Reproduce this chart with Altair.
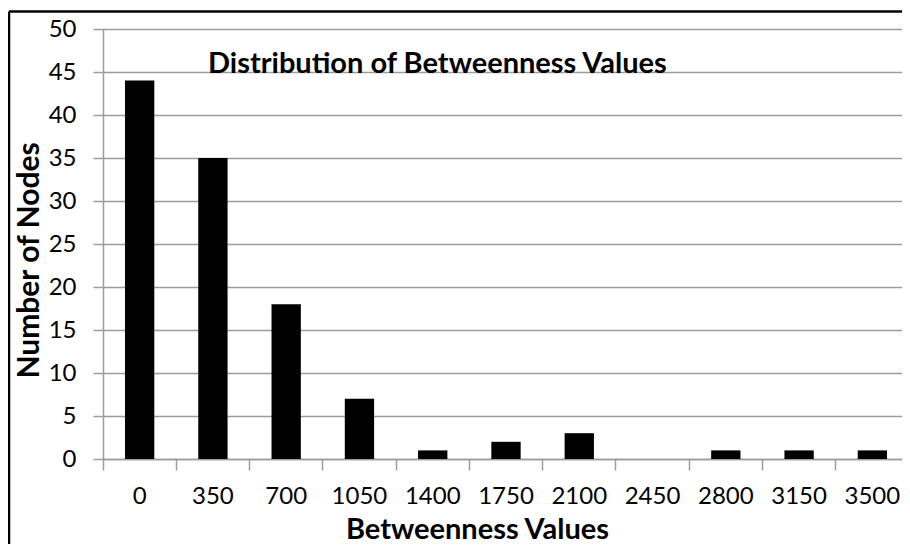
import altair as alt
import pandas as pd

# ---- data ----
categories = ["0", "350", "700", "1050", "1400", "1750", "2100", "2450", "2800", "3150", "3500"]
node_counts = [44, 35, 18, 7, 1, 2, 3, 0, 1, 1, 1]
y_tick_values = [0, 5, 10, 15, 20, 25, 30, 35, 40, 45, 50]

chart_title = "Distribution of Betweenness Values"
x_title = "Betweenness Values"
y_title = "Number of Nodes"

df = pd.DataFrame({"bin": categories, "count": node_counts})

W = 799          # visible plot width (the reference is cropped at the right)
X_RANGE = 806    # band range, runs slightly past the visible width like the reference
H = 430
FONT = "Lato"
GREY = "#9c9c9c"

bars = alt.Chart(df).mark_bar(color="black", width=alt.RelativeBandSize(0.4)).encode(
    x=alt.X(
        "bin:N",
        sort=categories,
        scale=alt.Scale(paddingInner=0, paddingOuter=0, range=[0, X_RANGE]),
        axis=alt.Axis(
            title=x_title,
            labelAngle=0,
            bandPosition=0,
            tickSize=11,
            tickColor=GREY,
            tickWidth=1.5,
            domainColor=GREY,
            domainWidth=1.5,
            labelFont=FONT,
            labelFontSize=24,
            labelColor="black",
            labelPadding=14,
            titleFont=FONT,
            titleFontSize=29,
            titleFontWeight="bold",
            titleColor="black",
            titleBaseline="alphabetic",
            titleAlign="center",
            titleX=374,
            titleY=79,
            grid=False,
        ),
    ),
    y=alt.Y(
        "count:Q",
        scale=alt.Scale(domain=[0, 50], nice=False),
        axis=alt.Axis(
            title=y_title,
            values=y_tick_values,
            tickSize=10,
            tickColor=GREY,
            tickWidth=1.5,
            domainColor=GREY,
            domainWidth=1.5,
            grid=True,
            gridColor=GREY,
            gridWidth=1.5,
            labelFont=FONT,
            labelFontSize=24,
            labelColor="black",
            labelPadding=17,
            titleFont=FONT,
            titleFontSize=30,
            titleFontWeight="bold",
            titleColor="black",
            titleAngle=270,
            titleBaseline="alphabetic",
            titleAlign="center",
            titleX=-65,
            titleY=231,
        ),
    ),
)

frame_src = alt.Data(values=[{"k": 1}])
frame_top = alt.Chart(frame_src).mark_rule(color="black", strokeWidth=2.5).encode(
    x=alt.value(-94), x2=alt.value(W + 20), y=alt.value(-17.5)
)
frame_left = alt.Chart(frame_src).mark_rule(color="black", strokeWidth=2.5).encode(
    x=alt.value(-94), y=alt.value(-17.5), y2=alt.value(H + 200)
)

chart = (
    alt.layer(bars, frame_top, frame_left)
    .properties(
        width=W,
        height=H,
        title=alt.TitleParams(
            chart_title,
            font=FONT,
            fontSize=29,
            fontWeight="bold",
            color="black",
            anchor="start",
            frame="group",
            baseline="alphabetic",
            offset=0,
            dx=105,
            dy=92,
        ),
        autosize=alt.AutoSizeParams(type="none"),
        padding={"left": 95, "top": 21, "right": 0, "bottom": 85},
    )
    .configure_view(stroke=None)
    .configure(background="white")
)

chart.save("out.html", embed_options={"renderer": "svg", "actions": False})
